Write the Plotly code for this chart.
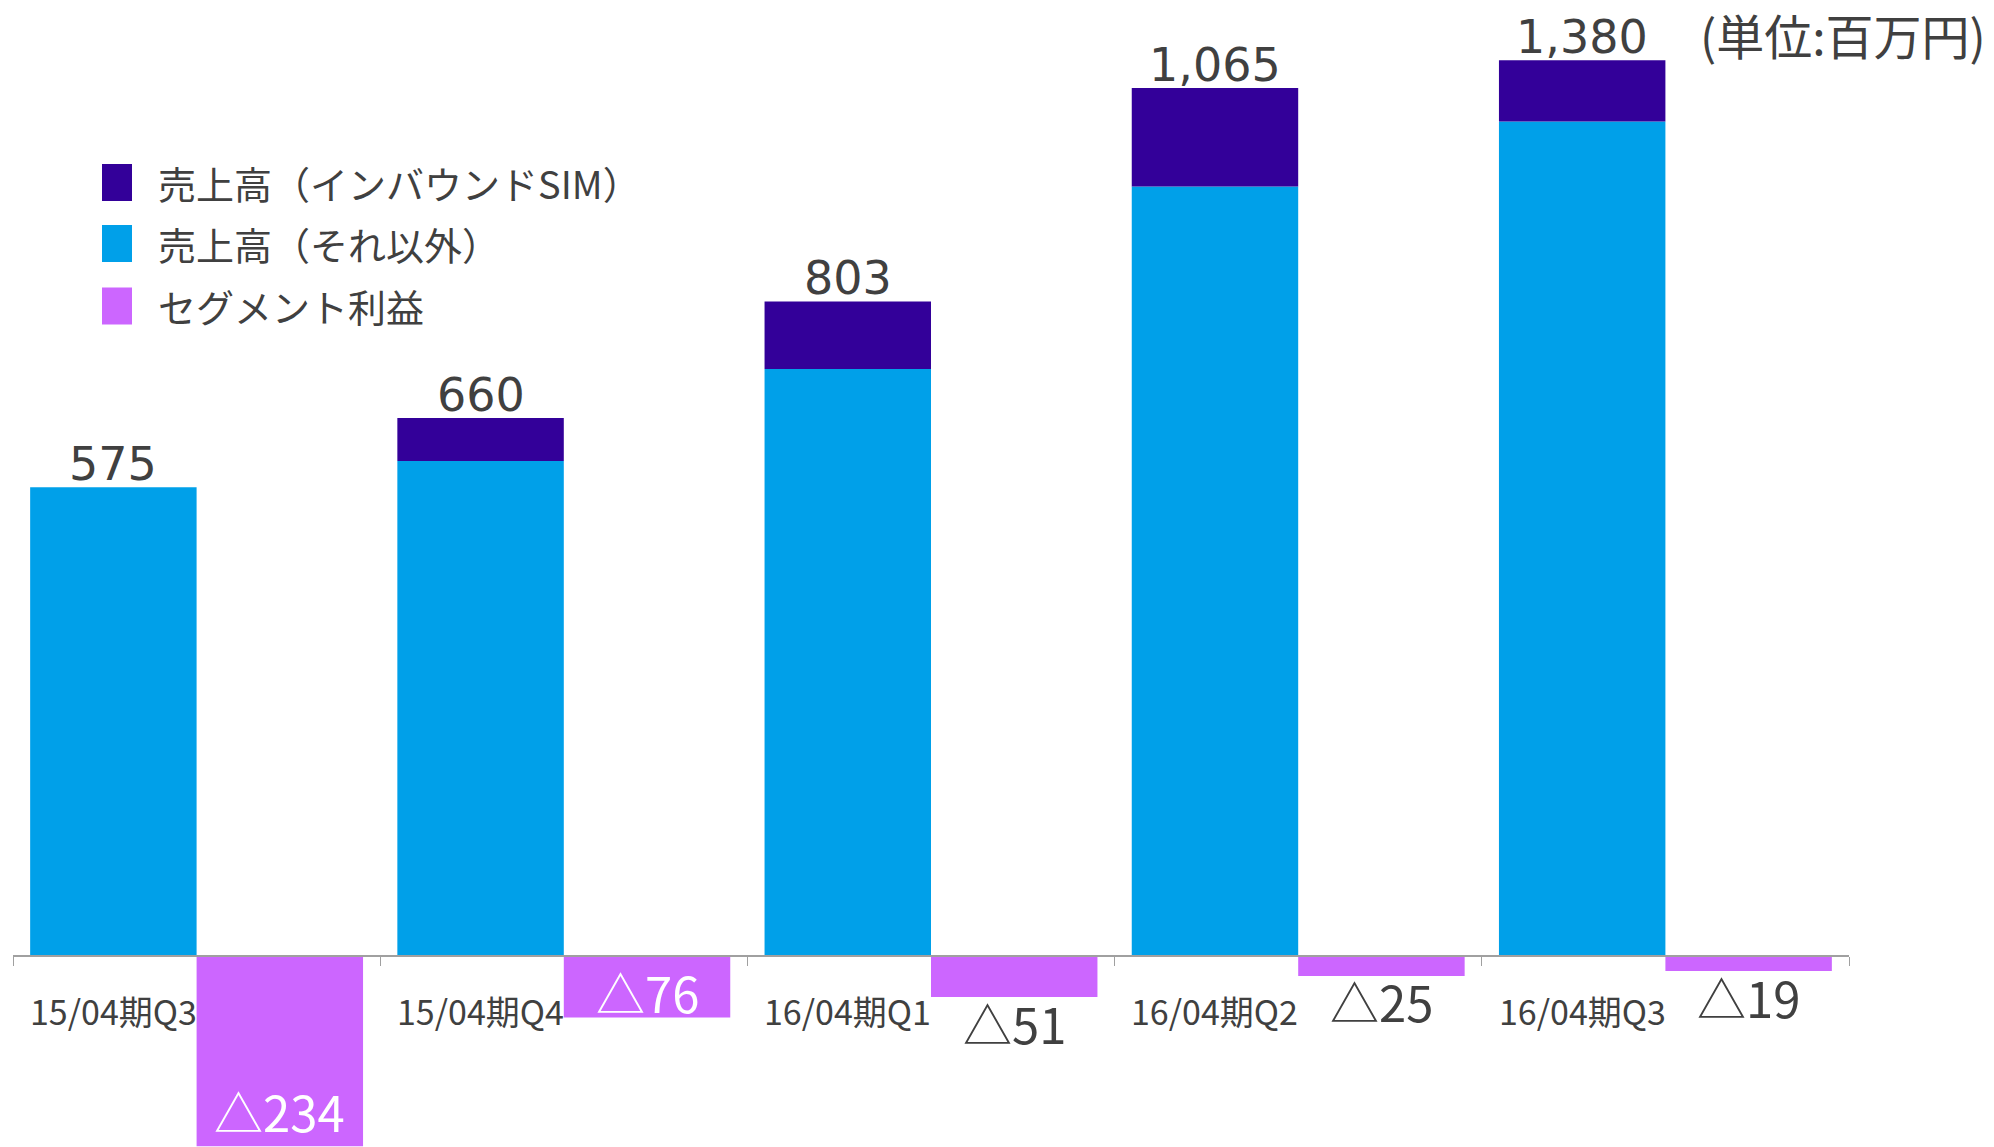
import plotly.graph_objects as go

categories = ["15/04期Q3", "15/04期Q4", "16/04期Q1", "16/04期Q2", "16/04期Q3"]
sales_other = [575, 607, 720, 944, 1024]
sales_inbound = [0, 53, 83, 121, 75]
total_labels = ["575", "660", "803", "1,065", "1,380"]
segment_profit = [-234, -76, -51, -25, -19]
profit_labels = ["△234", "△76", "△51", "△25", "△19"]
profit_label_inside = [True, True, False, False, False]

legend_names = ["売上高（インバウンドSIM）", "売上高（それ以外）", "セグメント利益"]
unit_label = "(単位:百万円)"

C_DARK = "#330099"
C_BLUE = "#00A0E9"
C_PURPLE = "#CC66FF"
C_TEXT = "#404040"

W, H = 1994, 1147
ML, MR, MT, MB = 13, 145, 0, 0
YMIN, YMAX = -235, 1173
BW = 0.4533  # bar width (fraction of category)

NUM_FONT = "DejaVu Sans, Verdana, sans-serif"
JP_FONT = "Noto Sans CJK JP, sans-serif"

PW = W - ML - MR
PH = H - MT - MB
PX_PER_UNIT = PH / (YMAX - YMIN)

fig = go.Figure()
fig.add_bar(x=categories, y=sales_other, name=legend_names[1], marker_color=C_BLUE,
            offset=-BW, width=BW, marker_line_width=0, hoverinfo="skip")
fig.add_bar(x=categories, y=sales_inbound, base=sales_other, name=legend_names[0],
            marker_color=C_DARK, offset=-BW, width=BW, marker_line_width=0, hoverinfo="skip")
fig.add_bar(x=categories, y=segment_profit, name=legend_names[2], marker_color=C_PURPLE,
            offset=0, width=BW, marker_line_width=0, hoverinfo="skip")

annotations = []
# totals above revenue bars
for i, (o, d, lab) in enumerate(zip(sales_other, sales_inbound, total_labels)):
    annotations.append(dict(x=i - BW / 2, y=o + d, xref="x", yref="y", text=lab,
                            showarrow=False, yanchor="bottom", yshift=-6,
                            font=dict(size=46, color=C_TEXT, family=NUM_FONT)))
# segment profit labels (inside bar end in white, or just outside in gray)
for i, (v, lab, inside) in enumerate(zip(segment_profit, profit_labels, profit_label_inside)):
    if inside:
        # keep the label box inside the plotting area
        clearance = (v - YMIN) * PX_PER_UNIT
        shift = max(26, 37 - clearance)
    else:
        shift = -25
    annotations.append(dict(x=i + BW / 2, y=v, xref="x", yref="y", text=lab,
                            showarrow=False, yanchor="middle", yshift=shift,
                            font=dict(size=49, color="white" if inside else C_TEXT,
                                      family=JP_FONT)))
# category labels under revenue bars
for i, cat in enumerate(categories):
    annotations.append(dict(x=i - BW / 2, y=0, xref="x", yref="y", text=cat,
                            showarrow=False, yanchor="middle", yshift=-55,
                            font=dict(size=34, color=C_TEXT, family=JP_FONT)))


def px(xp):
    return (xp - ML) / PW


def py(yp):
    return 1 - (yp - MT) / PH


shapes = []
legend_colors = [C_DARK, C_BLUE, C_PURPLE]
legend_y = [182.5, 243.5, 306]
for name, col, yc in zip(legend_names, legend_colors, legend_y):
    shapes.append(dict(type="rect", xref="paper", yref="paper",
                       x0=px(102), x1=px(132), y0=py(yc - 18.5), y1=py(yc + 18.5),
                       fillcolor=col, line_width=0))
    annotations.append(dict(x=px(156), y=py(yc), xref="paper", yref="paper", text=name,
                            showarrow=False, xanchor="left", yanchor="middle",
                            font=dict(size=38, color=C_TEXT, family=JP_FONT)))

annotations.append(dict(x=px(1988), y=py(34), xref="paper", yref="paper", text=unit_label,
                        showarrow=False, xanchor="right", yanchor="middle",
                        font=dict(size=48, color=C_TEXT, family=JP_FONT)))

zero_pos = (0 - YMIN) / (YMAX - YMIN)

fig.update_layout(
    width=W, height=H, autosize=False,
    margin=dict(l=ML, r=MR, t=MT, b=MB),
    barmode="overlay",
    showlegend=False,
    plot_bgcolor="white", paper_bgcolor="white",
    xaxis=dict(type="category", anchor="free", position=zero_pos,
               showline=True, linecolor="#A0A0A0", linewidth=2,
               ticks="outside", tickson="boundaries", ticklen=9, tickcolor="#A0A0A0",
               tickwidth=1, showticklabels=False, showgrid=False, zeroline=False,
               range=[-0.5, len(categories) - 0.5]),
    yaxis=dict(range=[YMIN, YMAX], visible=False, showgrid=False, zeroline=False),
    annotations=annotations,
    shapes=shapes,
)

fig.write_html("out.html")
